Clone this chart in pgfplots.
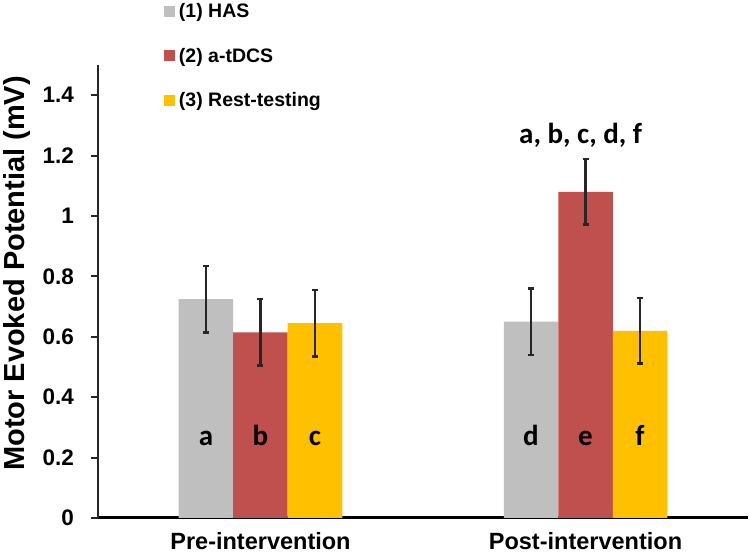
\documentclass[border=0pt]{standalone}
\usepackage{pgfplots}
\pgfplotsset{compat=1.18}
\usepackage{pgfplotstable}
\usepackage{fontspec}
\setmainfont{Liberation Sans}
\newfontfamily\carlito{Carlito}
\definecolor{cgray}{HTML}{BFBFBF}
\definecolor{cred}{HTML}{C0504D}
\definecolor{cyel}{HTML}{FFC000}
\definecolor{cerr}{HTML}{262626}
\pgfplotstableread{
x y e
0 0.725 0.110
1 0.650 0.110
}\hasdata
\pgfplotstableread{
x y e
0 0.615 0.110
1 1.080 0.108
}\tdcsdata
\pgfplotstableread{
x y e
0 0.645 0.110
1 0.620 0.108
}\restdata
\begin{document}
\begin{tikzpicture}
\useasboundingbox (-98pt,-38pt) rectangle (652pt,518pt);
\begin{axis}[
  at={(0pt,0pt)}, anchor=south west, scale only axis,
  width=650pt, height=453pt,
  xmin=-0.5, xmax=1.5, ymin=0, ymax=1.5,
  axis lines=left,
  x axis line style={-, black, line width=3pt},
  y axis line style={-, cerr, line width=2.5pt},
  xtick={0,1},
  xticklabels={Pre-intervention,Post-intervention},
  xtick style={draw=none},
  xticklabel style={font=\fontsize{23.5}{28}\selectfont\bfseries, anchor=base, yshift=-25pt, inner sep=0pt},
  ytick={0,0.2,0.4,0.6,0.8,1,1.2,1.4},
  ytick style={cerr, line width=2pt},
  tick align=outside,
  major tick length=7pt,
  yticklabel style={font=\fontsize{22.5}{27}\selectfont\bfseries, anchor=east, inner sep=0pt, xshift=-17pt},
  /pgf/number format/assume math mode=true,
  ylabel={Motor Evoked Potential (mV)},
  ylabel style={font=\fontsize{29}{34}\selectfont\bfseries, at={(axis description cs:-0.1138,0.54)}, anchor=base},
  ybar=0pt, bar width=54.5pt,
  legend style={draw=none, fill=none, at={(axis description cs:0.1015,1.136)}, anchor=north west, inner sep=0pt, outer sep=0pt, font=\fontsize{19.5}{22}\selectfont\bfseries, row sep=29pt, nodes={inner sep=0pt}, /tikz/every odd column/.append style={column sep=4pt}},
  legend image code/.code={\fill[#1] (0pt,-5.5pt) rectangle (11pt,5.5pt);},
  legend cell align=left,
  error bars/y dir=both, error bars/y explicit,
  error bars/error bar style={cerr, line width=2.5pt},
  error bars/error mark options={cerr, line width=2.5pt, mark size=3pt, rotate=90},
  clip=false,
]
\addplot[fill=cgray, draw=none] table[x=x, y=y, y error=e] {\hasdata};
\addlegendentry{(1) HAS}
\addplot[fill=cred, draw=none] table[x=x, y=y, y error=e] {\tdcsdata};
\addlegendentry{(2) a-tDCS}
\addplot[fill=cyel, draw=none] table[x=x, y=y, y error=e] {\restdata};
\addlegendentry{(3) Rest-testing}
\begin{scope}[every node/.style={font=\carlito\bfseries\fontsize{29}{34}\selectfont, anchor=base}]
\node at (axis cs:-0.1677,0.24) {a};
\node at (axis cs:0,0.24) {b};
\node at (axis cs:0.1677,0.24) {c};
\node at (axis cs:0.8323,0.24) {d};
\node at (axis cs:1,0.24) {e};
\node at (axis cs:1.1677,0.24) {f};
\node at (axis cs:0.985,1.24) {a, b, c, d, f};
\end{scope}
\end{axis}
\end{tikzpicture}
\end{document}
